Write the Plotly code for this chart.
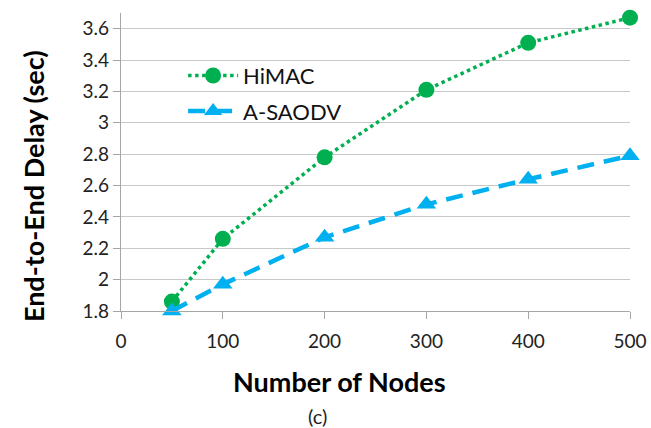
import plotly.graph_objects as go

nodes = [50, 100, 200, 300, 400, 500]
himac = [1.86, 2.26, 2.78, 3.21, 3.51, 3.67]
asaodv = [1.80, 1.97, 2.27, 2.48, 2.64, 2.79]

FONT = "Lato, 'Open Sans', sans-serif"

fig = go.Figure()
fig.add_trace(go.Scatter(
    x=nodes, y=himac, name="HiMAC", mode="lines+markers", legendgroup="a",
    line=dict(color="#00B050", width=3.5, dash="dot"),
    marker=dict(symbol="circle", size=16, color="#00B050"),
    cliponaxis=False,
))
fig.add_trace(go.Scatter(
    x=nodes, y=asaodv, name="A-SAODV", mode="lines+markers", legendgroup="b",
    line=dict(color="#00B0F0", width=4.5, dash="17px,10px"),
    marker=dict(symbol="triangle-up", size=17, color="#00B0F0"),
    cliponaxis=False,
))

fig.update_layout(
    width=651, height=428,
    margin=dict(l=121, r=21, t=13, b=117, autoexpand=False),
    paper_bgcolor="white", plot_bgcolor="white",
    font=dict(family=FONT, color="#222222"),
    showlegend=True,
    legend=dict(x=0.122, y=0.86, xanchor="left", yanchor="top",
                font=dict(size=22, family=FONT, color="#111111"),
                bgcolor="rgba(0,0,0,0)", tracegroupgap=4, itemwidth=50),
    xaxis=dict(
        range=[0, 500], tickvals=[0, 100, 200, 300, 400, 500],
        showgrid=False, zeroline=False, automargin=False,
        showline=True, linecolor="#A6A6A6", linewidth=1.3,
        ticks="outside", ticklen=7, tickcolor="#A6A6A6",
        ticklabelstandoff=6,
        tickfont=dict(size=19, family=FONT, color="#222222"),
    ),
    yaxis=dict(
        range=[1.8, 3.7], tickvals=[1.8, 2.0, 2.2, 2.4, 2.6, 2.8, 3.0, 3.2, 3.4, 3.6],
        ticktext=["1.8", "2", "2.2", "2.4", "2.6", "2.8", "3", "3.2", "3.4", "3.6"],
        showgrid=True, gridcolor="#C8C8C8", gridwidth=1.3, zeroline=False, automargin=False,
        showline=True, linecolor="#A6A6A6", linewidth=1.3,
        ticks="outside", ticklen=7, tickcolor="#A6A6A6",
        tickfont=dict(size=19, family=FONT, color="#222222"),
    ),
)
fig.add_annotation(text="<b>Number of Nodes</b>", xref="paper", yref="paper", x=0.43, y=-0.238,
                   showarrow=False, font=dict(size=27, family=FONT, color="#000000"),
                   xanchor="center", yanchor="middle")
fig.add_annotation(text="<b>End-to-End Delay (sec)</b>", xref="paper", yref="paper", x=-0.173, y=0.419,
                   showarrow=False, textangle=-90, font=dict(size=27, family=FONT, color="#000000"),
                   xanchor="center", yanchor="middle")
fig.add_annotation(text="(c)", xref="paper", yref="paper", x=0.387, y=-0.352,
                   showarrow=False, font=dict(size=20, family=FONT, color="#222222"),
                   xanchor="center", yanchor="middle")

fig.write_html("out.html", config={"displayModeBar": False},
               post_script="document.body.style.margin='0';document.body.style.overflow='hidden';")
